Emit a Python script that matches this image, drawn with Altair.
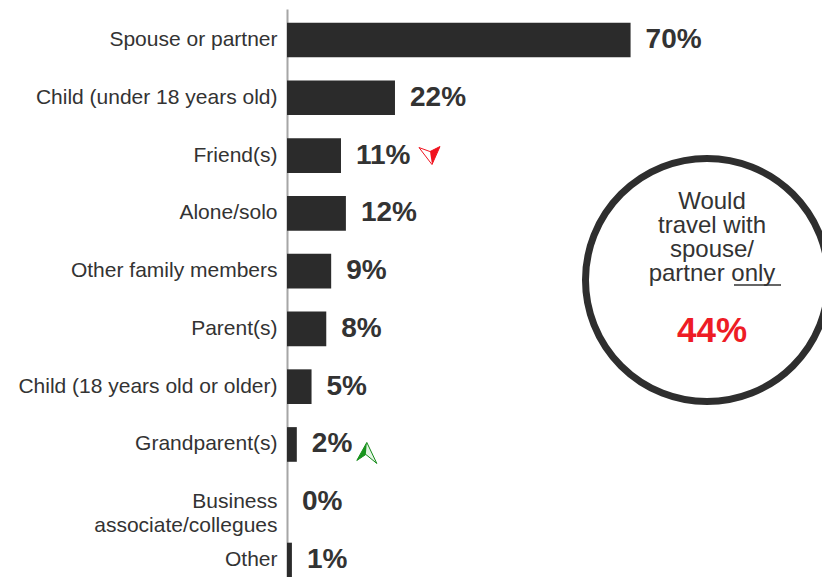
import altair as alt
import pandas as pd

categories = [
    "Spouse or partner",
    "Child (under 18 years old)",
    "Friend(s)",
    "Alone/solo",
    "Other family members",
    "Parent(s)",
    "Child (18 years old or older)",
    "Grandparent(s)",
    "Business associate/collegues",
    "Other",
]
values = [70, 22, 11, 12, 9, 8, 5, 2, 0, 1]
value_labels = [f"{v}%" for v in values]

arrow_down_category = "Friend(s)"
arrow_up_category = "Grandparent(s)"

callout_lines = ["Would", "travel with", "spouse/", "partner only"]
callout_value = "44%"

df = pd.DataFrame({"category": categories, "value": values, "label": value_labels})

FONT = "Liberation Sans"
TEXT = "#333333"
PX_PER_PCT = 535 / 109

y_enc = alt.Y(
    "category:N",
    sort=categories,
    scale=alt.Scale(range=[0, 582], paddingInner=0.4, paddingOuter=0.236),
    axis=alt.Axis(
        title=None,
        ticks=False,
        domainColor="#a6a6a6",
        domainWidth=2,
        labelFont=FONT,
        labelFontSize=21,
        labelColor=TEXT,
        labelPadding=10,
        labelLimit=0,
        labelLineHeight=24,
        labelExpr="datum.value == 'Business associate/collegues' ? ['Business', 'associate/collegues'] : datum.value",
    ),
)
x_scale = alt.Scale(domain=[0, 109])
x_enc = alt.X("value:Q", scale=x_scale, axis=None)

base = alt.Chart(df)

bars = base.mark_bar(color="#2b2b2b").encode(y=y_enc, x=x_enc)

labels = base.mark_text(
    align="left", baseline="middle", dx=15, font=FONT, fontSize=28,
    fontWeight="bold", color=TEXT,
).encode(y=y_enc, x=x_enc, text="label:N")

down_base = base.transform_filter(
    alt.datum.category == arrow_down_category
).transform_calculate(ax=f"datum.value + {89 / PX_PER_PCT}")
ax_down = alt.X("ax:Q", scale=x_scale, axis=None)

arrow_down_outline = down_base.mark_point(
    shape="M-1.1,-0.8 L0,-0.4 L1,-0.9 L0.2,0.9 Z",
    filled=True, fill="white", stroke="#f0121e", strokeWidth=1,
    size=400, opacity=1,
).encode(y=y_enc, x=ax_down)

arrow_down_fill = down_base.mark_point(
    shape="M0,-0.4 L1,-0.9 L0.2,0.9 Z",
    filled=True, fill="#f0121e", strokeWidth=0,
    size=400, opacity=1,
).encode(y=y_enc, x=ax_down)

up_base = base.transform_filter(
    alt.datum.category == arrow_up_category
).transform_calculate(ax=f"datum.value + {70 / PX_PER_PCT}")
ax_up = alt.X("ax:Q", scale=x_scale, axis=None)

arrow_up_outline = up_base.mark_point(
    shape="M0,-0.2 L-1,1.6 L-0.1,1.0 L1,1.9 Z",
    filled=True, fill="#e4f4e4", stroke="#138a18", strokeWidth=1,
    size=400, opacity=1,
).encode(y=y_enc, x=ax_up)

arrow_up_fill = up_base.mark_point(
    shape="M0,-0.2 L-1,1.6 L-0.1,1.0 Z",
    filled=True, fill="#17941c", strokeWidth=0,
    size=400, opacity=1,
).encode(y=y_enc, x=ax_up)

ann_df = pd.DataFrame({"v": [callout_value]})
ann = alt.Chart(ann_df)

circle = ann.mark_point(
    shape="circle", filled=False, size=59049, strokeWidth=7, color="#2e2e2e", opacity=1
).encode(x=alt.value(420), y=alt.value(271))

callout_text = ann.mark_text(
    text=callout_lines, align="center", baseline="alphabetic", lineHeight=24,
    font=FONT, fontSize=24, color=TEXT,
).encode(x=alt.value(425), y=alt.value(200))

underline = ann.mark_rule(color=TEXT, strokeWidth=1.5).encode(
    x=alt.value(447), x2=alt.value(494), y=alt.value(276)
)

big_value = ann.mark_text(
    align="center", baseline="alphabetic", font=FONT, fontSize=35,
    fontWeight="bold", color="#ee1c25",
).encode(x=alt.value(425), y=alt.value(333), text="v:N")

chart = alt.layer(
    bars, labels, arrow_down_outline, arrow_down_fill, arrow_up_outline, arrow_up_fill,
    circle, callout_text, underline, big_value
).properties(
    width=535,
    height=560,
    autosize=alt.AutoSizeParams(type="none"),
    padding={"left": 279, "top": 1, "right": 0, "bottom": 8},
    background="white",
).configure_view(stroke=None)

chart.save("out.html", embed_options={"renderer": "svg", "actions": False})
